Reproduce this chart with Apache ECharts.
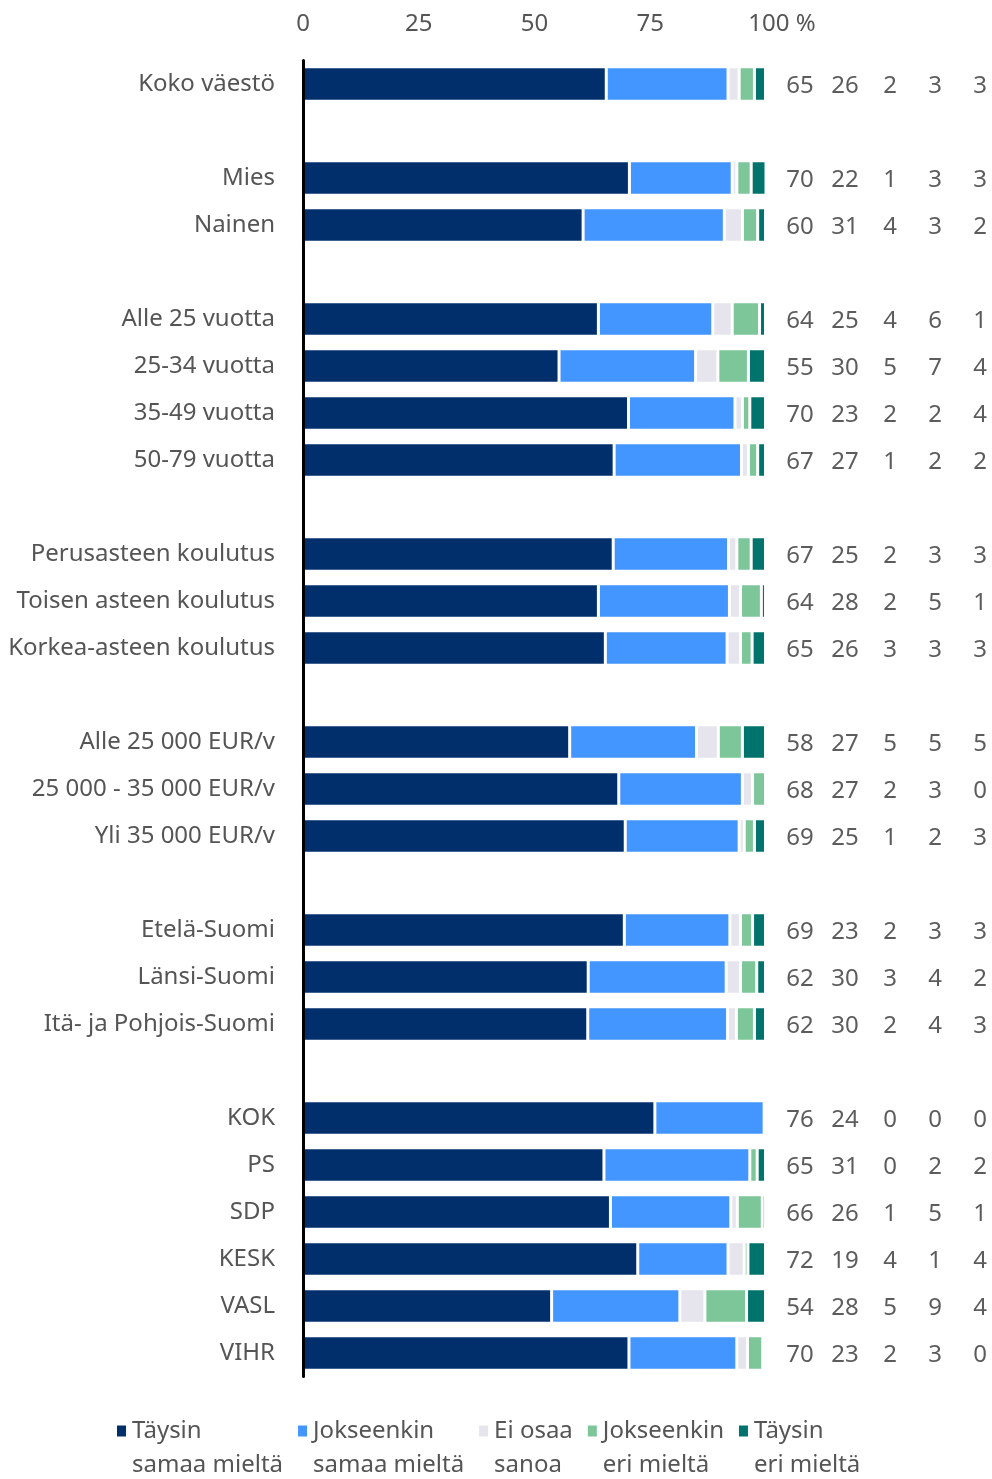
<!DOCTYPE html>
<html>
<head>
<meta charset="utf-8">
<script src="https://cdn.jsdelivr.net/npm/echarts@6/dist/echarts.min.js"></script>
<style>html,body{margin:0;padding:0;background:#fff}#c{width:992px;height:1479px}</style>
</head>
<body>
<div id="c"></div>
<script>
// Row categories (g1..g6 are empty spacer rows between groups)
const categories = ['Koko väestö','g1','Mies','Nainen','g2','Alle 25 vuotta','25-34 vuotta','35-49 vuotta','50-79 vuotta','g3','Perusasteen koulutus','Toisen asteen koulutus','Korkea-asteen koulutus','g4','Alle 25 000 EUR/v','25 000 - 35 000 EUR/v','Yli 35 000 EUR/v','g5','Etelä-Suomi','Länsi-Suomi','Itä- ja Pohjois-Suomi','g6','KOK','PS','SDP','KESK','VASL','VIHR'];
const seriesNames = ['Täysin\nsamaa mieltä','Jokseenkin\nsamaa mieltä','Ei osaa\nsanoa','Jokseenkin\neri mieltä','Täysin\neri mieltä'];

const barTaysinSamaa  = [65.5,null,70.5,60.5,null,63.8,55.3,70.3,67.2,null,67.0,63.8,65.3,null,57.6,68.2,69.6,null,69.4,61.6,61.5,null,76.0,65.0,66.4,72.3,53.7,70.4];
const barJokseenSamaa = [26.3,null,22.2,30.5,null,24.7,29.5,23.0,27.5,null,24.9,28.3,26.3,null,27.4,26.7,24.6,null,22.8,29.8,30.2,null,23.6,31.5,26.0,19.5,27.7,23.3];
const barEiOsaa       = [2.4,null,1.0,3.9,null,4.2,4.8,1.6,1.5,null,1.8,2.4,2.9,null,4.7,2.2,1.1,null,2.3,3.1,1.9,null,0,0,1.4,3.5,5.4,2.3];
const barJokseenEri   = [3.3,null,3.1,3.3,null,5.9,6.6,1.6,2.0,null,3.1,4.5,2.5,null,5.2,2.8,2.2,null,2.6,3.5,3.9,null,0,1.6,5.4,0.8,9.0,3.3];
const barTaysinEri    = [2.4,null,3.2,1.7,null,1.3,3.7,3.4,1.7,null,3.1,0.9,2.9,null,5.0,0,2.4,null,2.8,1.9,2.4,null,0,1.8,0.7,3.8,4.1,0];

// Printed values in the right-hand columns
const valTaysinSamaa  = [65,null,70,60,null,64,55,70,67,null,67,64,65,null,58,68,69,null,69,62,62,null,76,65,66,72,54,70];
const valJokseenSamaa = [26,null,22,31,null,25,30,23,27,null,25,28,26,null,27,27,25,null,23,30,30,null,24,31,26,19,28,23];
const valEiOsaa       = [2,null,1,4,null,4,5,2,1,null,2,2,3,null,5,2,1,null,2,3,2,null,0,0,1,4,5,2];
const valJokseenEri   = [3,null,3,3,null,6,7,2,2,null,3,5,3,null,5,3,2,null,3,4,4,null,0,2,5,1,9,3];
const valTaysinEri    = [3,null,3,2,null,1,4,4,2,null,3,1,3,null,5,0,3,null,3,2,3,null,0,2,1,4,4,0];

const tickLabels = {0:'0',25:'25',50:'50',75:'75',100:'100 %'};
const colors = ['#002F6C','#4395FF','#E6E4EC','#7CC699','#00736C'];

const bars = [barTaysinSamaa, barJokseenSamaa, barEiOsaa, barJokseenEri, barTaysinEri];
const vals = [valTaysinSamaa, valJokseenSamaa, valEiOsaa, valJokseenEri, valTaysinEri];
const FONT = 'Noto Sans';

const labelData = [];
categories.forEach((c, i) => {
  vals.forEach((s, j) => {
    if (s[i] !== null) labelData.push([j, c, s[i]]);
  });
});

const chart = echarts.init(document.getElementById('c'));
chart.setOption({
  animation: false,
  textStyle: {fontFamily: FONT},
  color: colors,
  grid: [
    {left: 303, right: 226, top: 60.5, bottom: 102.5},
    {left: 800, right: 12, top: 60.5, bottom: 102.5}
  ],
  xAxis: [
    {gridIndex: 0, type: 'value', position: 'top', min: 0, max: 100, interval: 25,
     axisLine: {show: false}, axisTick: {show: false}, splitLine: {show: false},
     axisLabel: {margin: 24, color: '#555', fontSize: 24, fontFamily: FONT,
       formatter: v => v === 100 ? '{p|' + tickLabels[v] + '}' : tickLabels[v],
       rich: {p: {padding: [0,0,0,32], color: '#555', fontSize: 24, fontFamily: FONT}}}},
    {gridIndex: 1, type: 'value', min: 0, max: 4, show: false}
  ],
  yAxis: [
    {gridIndex: 0, type: 'category', data: categories, inverse: true, z: 10,
     axisLine: {show: true, lineStyle: {color: '#000', width: 3}},
     axisTick: {show: false},
     axisLabel: {margin: 28, color: '#555', fontSize: 24, fontFamily: FONT,
       padding: [4,0,0,0],
       formatter: v => /^g\d$/.test(v) ? '' : v}},
    {gridIndex: 1, type: 'category', data: categories, inverse: true, show: false}
  ],
  legend: {
    data: seriesNames, left: 110, top: 1375, itemWidth: 11, itemHeight: 13, itemGap: 13,
    icon: 'rect', selectedMode: false,
    formatter: name => '\n' + name,
    textStyle: {color: '#555', fontSize: 24, fontFamily: FONT, lineHeight: 34}
  },
  series: bars.map((s, j) => ({
    name: seriesNames[j], type: 'bar', stack: 'all', xAxisIndex: 0, yAxisIndex: 0,
    barWidth: 34.5, data: s,
    itemStyle: {color: colors[j], borderColor: '#fff', borderWidth: 1.5}
  })).concat([{
    type: 'scatter', xAxisIndex: 1, yAxisIndex: 1, symbolSize: 0, data: labelData,
    silent: true,
    label: {show: true, position: 'inside', offset: [0, 2], formatter: p => String(p.value[2]),
      color: '#333', fontSize: 24, fontFamily: FONT}
  }])
});
</script>
</body>
</html>
